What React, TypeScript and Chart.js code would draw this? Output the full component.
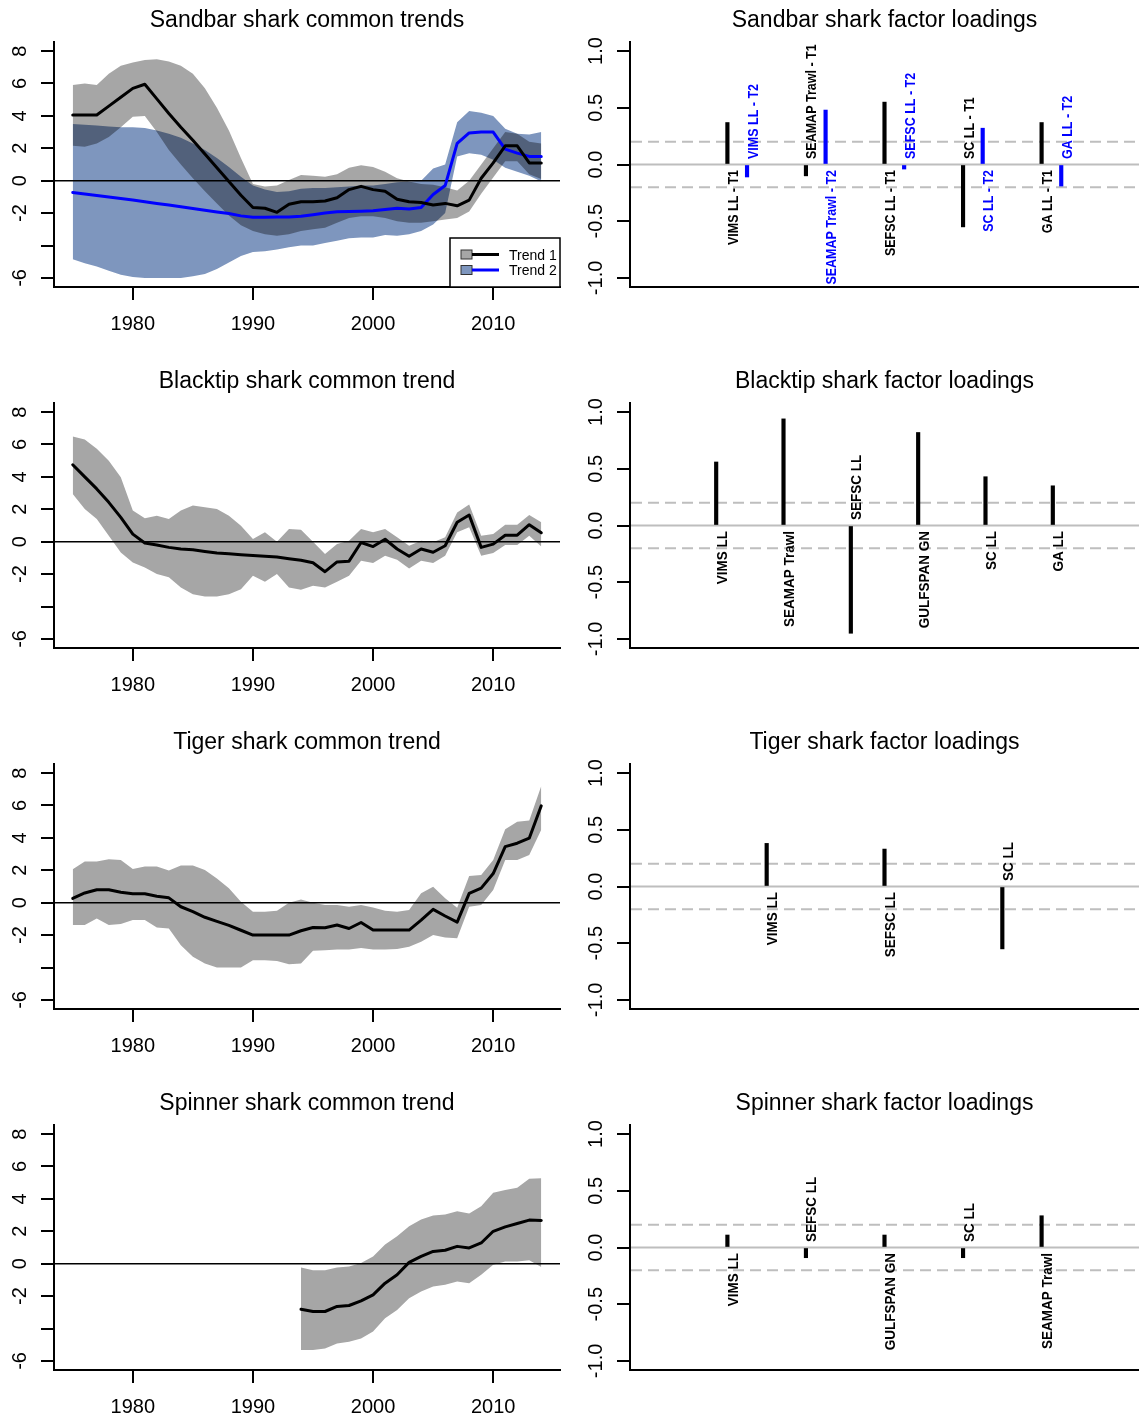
import React, { useEffect, useRef } from 'react';
import { Chart, registerables } from 'chart.js';

Chart.register(...registerables);

const FONT = '"Liberation Sans", Arial, Helvetica, sans-serif';

// ---------- time axis ----------
const years = [
  1975, 1976, 1977, 1978, 1979, 1980, 1981, 1982, 1983, 1984,
  1985, 1986, 1987, 1988, 1989, 1990, 1991, 1992, 1993, 1994,
  1995, 1996, 1997, 1998, 1999, 2000, 2001, 2002, 2003, 2004,
  2005, 2006, 2007, 2008, 2009, 2010, 2011, 2012, 2013, 2014,
];
const spinnerYears = [
  1994, 1995, 1996, 1997, 1998, 1999, 2000, 2001, 2002, 2003, 2004,
  2005, 2006, 2007, 2008, 2009, 2010, 2011, 2012, 2013, 2014,
];

// ---------- Sandbar: two common trends with 95% bands ----------
const sandbarTrend1 = [
  4.05, 4.05, 4.05, 4.6, 5.15, 5.7, 5.95, 5.05, 4.15, 3.3,
  2.5, 1.65, 0.8, -0.05, -0.9, -1.65, -1.7, -1.95, -1.45, -1.3,
  -1.3, -1.25, -1.05, -0.55, -0.35, -0.55, -0.65, -1.15, -1.3, -1.35,
  -1.5, -1.4, -1.55, -1.2, 0.15, 1.1, 2.15, 2.15, 1.1, 1.1,
];
const sandbarTrend1Upper = [
  5.9, 6.0, 5.9, 6.6, 7.1, 7.3, 7.45, 7.5, 7.35, 7.1,
  6.6, 5.7, 4.5, 3.1, 1.4, -0.2, -0.35, -0.3, 0.05, 0.35,
  0.3, 0.25, 0.4, 0.8, 0.95, 0.85, 0.55, 0.15, -0.05, -0.2,
  -0.25, -0.4, -0.6, 0.0, 1.0, 2.0, 3.0, 2.9, 2.4, 2.3,
];
const sandbarTrend1Lower = [
  2.15, 2.1, 2.3, 2.7, 3.3, 3.95, 4.0, 3.0, 1.9, 1.0,
  0.15, -0.65, -1.4, -2.15, -2.75, -3.1, -3.3, -3.4, -3.3, -3.1,
  -3.0, -2.9, -2.6, -2.3, -2.2, -2.2, -2.3, -2.5, -2.6, -2.6,
  -2.5, -2.4, -2.3, -1.9, -0.8, 0.2, 1.2, 1.2, 0.4, 0.1,
];
const sandbarTrend2 = [
  -0.73, -0.82, -0.92, -1.01, -1.1, -1.19, -1.3, -1.4, -1.5, -1.61,
  -1.71, -1.82, -1.93, -2.03, -2.17, -2.26, -2.25, -2.24, -2.24, -2.2,
  -2.1, -2.0, -1.92, -1.9, -1.88, -1.86, -1.78, -1.7, -1.75, -1.66,
  -0.85, -0.3, 2.3, 2.95, 3.0, 3.0, 1.95, 1.7, 1.5, 1.5,
];
const sandbarTrend2Upper = [
  3.5, 3.45, 3.4, 3.35, 3.3, 3.3, 3.25, 3.1, 2.9, 2.65,
  2.3, 1.9, 1.4, 0.85, 0.25, -0.3, -0.55, -0.7, -0.65, -0.5,
  -0.45, -0.45, -0.4, -0.35, -0.3, -0.3, -0.2, -0.1, -0.05, 0.0,
  0.75, 1.0, 3.6, 4.3, 4.2, 4.0, 3.2, 2.9, 2.85, 3.0,
];
const sandbarTrend2Lower = [
  -4.85, -5.1, -5.3, -5.55, -5.8, -5.95, -6.0, -6.0, -6.0, -6.0,
  -5.9, -5.75, -5.45, -5.05, -4.65, -4.4, -4.35, -4.25, -4.1, -4.0,
  -4.0, -3.85, -3.7, -3.55, -3.5, -3.5, -3.35, -3.4, -3.3, -3.1,
  -2.7, -2.0, 1.5, 1.7, 1.6, 1.3, 0.8, 0.55, 0.3, -0.05,
];

// ---------- Blacktip ----------
const blacktipTrend = [
  4.75, 4.0, 3.26, 2.43, 1.5, 0.47, -0.08, -0.2, -0.35, -0.45,
  -0.5, -0.6, -0.7, -0.75, -0.8, -0.85, -0.9, -0.95, -1.05, -1.15,
  -1.3, -1.85, -1.25, -1.2, -0.05, -0.3, 0.15, -0.45, -0.9, -0.45,
  -0.65, -0.25, 1.2, 1.65, -0.35, -0.15, 0.4, 0.4, 1.05, 0.55,
];
const blacktipUpper = [
  6.5, 6.3, 5.73, 5.0, 3.98, 1.92, 1.44, 1.6, 1.4, 1.92,
  2.23, 2.12, 2.02, 1.6, 0.99, 0.16, 0.58, 0.0, 0.78, 0.74,
  0.0, -0.76, -0.14, 0.06, 0.78, 0.58, 0.78, 0.27, -0.25, 0.06,
  -0.04, 0.27, 1.81, 2.29, 0.37, 0.47, 1.05, 1.05, 1.65, 1.2,
];
const blacktipLower = [
  2.95, 2.02, 1.4, 0.37, -0.66, -1.28, -1.59, -2.0, -2.2, -2.82,
  -3.24, -3.38, -3.38, -3.24, -2.93, -2.1, -2.47, -2.0, -2.82, -2.97,
  -2.72, -2.82, -2.47, -2.1, -1.18, -1.32, -0.87, -1.11, -1.65, -1.18,
  -1.32, -0.87, 0.58, 0.89, -0.87, -0.7, -0.21, -0.21, 0.37, -0.29,
];

// ---------- Tiger ----------
const tigerTrend = [
  0.27, 0.6, 0.8, 0.8, 0.65, 0.55, 0.55, 0.4, 0.3, -0.25,
  -0.55, -0.9, -1.15, -1.4, -1.7, -2.0, -2.0, -2.0, -2.0, -1.73,
  -1.53, -1.55, -1.38, -1.59, -1.22, -1.69, -1.69, -1.69, -1.69, -1.07,
  -0.41, -0.82, -1.2, 0.58, 0.9, 1.8, 3.46, 3.67, 3.98, 5.98,
];
const tigerUpper = [
  2.06, 2.54, 2.54, 2.68, 2.64, 2.08, 2.23, 2.23, 1.98, 2.29,
  2.29, 2.02, 1.5, 0.89, 0.06, -0.56, -0.56, -0.49, 0.0, 0.2,
  0.0, -0.14, -0.14, -0.25, -0.14, -0.29, -0.5, -0.56, -0.45, 0.58,
  0.99, 0.27, -0.31, 1.65, 1.71, 2.64, 4.54, 5.0, 5.07, 7.2,
];
const tigerLower = [
  -1.38, -1.38, -0.97, -1.38, -1.32, -1.07, -1.07, -1.53, -1.59, -2.62,
  -3.34, -3.75, -4.0, -4.0, -4.0, -3.55, -3.55, -3.6, -3.8, -3.75,
  -2.97, -2.93, -2.89, -2.89, -2.8, -2.89, -2.89, -2.85, -2.72, -2.41,
  -2.0, -2.14, -2.2, -0.25, -0.14, 0.78, 2.64, 2.64, 2.95, 4.5,
];

// ---------- Spinner (1994 onwards) ----------
const spinnerTrend = [
  -2.81, -2.95, -2.95, -2.64, -2.58, -2.29, -1.92, -1.2, -0.68, 0.08, 0.45,
  0.76, 0.83, 1.07, 0.97, 1.28, 2.0, 2.27, 2.48, 2.69, 2.67,
];
const spinnerUpper = [
  -0.23, -0.41, -0.41, -0.23, -0.17, 0.04, 0.45, 1.18, 1.69, 2.31, 2.73,
  2.98, 3.04, 3.24, 3.1, 3.55, 4.38, 4.55, 4.69, 5.25, 5.27,
];
const spinnerLower = [
  -5.33, -5.33, -5.23, -4.92, -4.81, -4.61, -4.19, -3.37, -2.85, -2.13, -1.71,
  -1.4, -1.3, -1.1, -1.2, -0.68, -0.06, 0.14, 0.14, 0.21, -0.21,
];

// ---------- factor loadings ----------
const sandbarSurveys = ['VIMS LL', 'SEAMAP Trawl', 'SEFSC LL', 'SC LL', 'GA LL'];
const sandbarLoadingsT1 = [0.37, -0.1, 0.55, -0.55, 0.37];
const sandbarLoadingsT2 = [-0.11, 0.48, -0.04, 0.32, -0.19];

const blacktipSurveys = ['VIMS LL', 'SEAMAP Trawl', 'SEFSC LL', 'GULFSPAN GN', 'SC LL', 'GA LL'];
const blacktipLoadings = [0.56, 0.94, -0.95, 0.82, 0.43, 0.35];

const tigerSurveys = ['VIMS LL', 'SEFSC LL', 'SC LL'];
const tigerLoadings = [0.38, 0.33, -0.55];

const spinnerSurveys = ['VIMS LL', 'SEFSC LL', 'GULFSPAN GN', 'SC LL', 'SEAMAP Trawl'];
const spinnerLoadings = [0.11, -0.09, 0.11, -0.09, 0.28];

// ---------- axis ticks ----------
const trendYRange = [-6, 8];
const trendYTicks = [-6, -4, -2, 0, 2, 4, 6, 8];
const trendYTickLabels = ['-6', '', '-2', '0', '2', '4', '6', '8'];
const trendXTicks = [1980, 1990, 2000, 2010];
const trendXTickLabels = ['1980', '1990', '2000', '2010'];

const loadingYRange = [-1, 1];
const loadingYTicks = [-1, -0.5, 0, 0.5, 1];
const loadingYTickLabels = ['-1.0', '-0.5', '0.0', '0.5', '1.0'];
const loadingGuides = [0.2, -0.2];

// ---------- page layout ----------
const PAGE_W = 1139;
const PAGE_H = 1418;
const ROW_PITCH = 361;
const SPLIT_X = 570;
const PLOT_TOP = 42;
const PLOT_BOTTOM = 287;
const TREND_AXIS_W = 54;
const TREND_PAD_RIGHT = 10;
const LOAD_AXIS_W = 60;

const BLACK = '#000000';
const BLUE = '#0000FF';
const BAND_GREY = '#A6A6A6';
const BAND_GREY_ALPHA = 'rgba(0,0,0,0.35)';
const BAND_BLUE = '#7E96BE';

// base-graphics style 4% extension of an axis range
const extend = (lo: number, hi: number) => {
  const d = (hi - lo) * 0.04;
  return [lo - d, hi + d];
};

const pts = (xs: number[], ys: number[]) => xs.map((x, i) => ({ x, y: ys[i] }));

type TickText = { value: number; text: string };
type LegendItem = { text: string; fill: string; line: string };
type BarLabel = { x: number; value: number; text: string; color: string };

interface PanelSpec {
  title: string;
  yTicks: TickText[];
  xTicks?: TickText[];
  legend?: LegendItem[];
  guides?: number[];
  barLabels?: BarLabel[];
  labelSize?: number;
}

const tickTexts = (values: number[], labels: string[]) =>
  values.map((value, i) => ({ value, text: labels[i] }));

function drawUpText(ctx: CanvasRenderingContext2D, text: string, x: number, y: number, align: CanvasTextAlign, stretch = 1) {
  ctx.save();
  ctx.translate(x, y);
  ctx.rotate(-Math.PI / 2);
  ctx.scale(1, stretch);
  ctx.textAlign = align;
  ctx.textBaseline = 'alphabetic';
  ctx.fillText(text, 0, 0);
  ctx.restore();
}

function panelPlugin(spec: PanelSpec) {
  return {
    id: 'panelDecor',
    beforeDatasetsDraw(chart: any) {
      if (!spec.guides) return;
      const { ctx, chartArea: a } = chart;
      const ys = chart.scales.y;
      ctx.save();
      ctx.strokeStyle = '#BEBEBE';
      ctx.lineWidth = 2;
      const y0 = ys.getPixelForValue(0);
      ctx.beginPath();
      ctx.moveTo(a.left + 1, y0);
      ctx.lineTo(a.right, y0);
      ctx.stroke();
      ctx.setLineDash([11, 6]);
      spec.guides.forEach((v) => {
        const gy = ys.getPixelForValue(v);
        ctx.beginPath();
        ctx.moveTo(a.left + 1, gy);
        ctx.lineTo(a.right, gy);
        ctx.stroke();
      });
      ctx.restore();
    },
    afterDatasetsDraw(chart: any) {
      if (!spec.barLabels) return;
      const { ctx, chartArea: a } = chart;
      const xs = chart.scales.x;
      const ys = chart.scales.y;
      const y0 = ys.getPixelForValue(0);
      ctx.save();
      ctx.beginPath();
      ctx.rect(a.left, a.top, a.right - a.left, a.bottom - a.top);
      ctx.clip();
      ctx.font = `bold ${spec.labelSize || 13.5}px ${FONT}`;
      spec.barLabels.forEach((lb) => {
        const px = xs.getPixelForValue(lb.x) + 10.5;
        const below = lb.value >= 0;
        ctx.fillStyle = lb.color;
        drawUpText(ctx, lb.text, px, below ? y0 + 5.5 : y0 - 5.5, below ? 'right' : 'left', 1.12);
      });
      ctx.restore();
    },
    afterDraw(chart: any) {
      const { ctx, chartArea: a } = chart;
      ctx.save();
      ctx.fillStyle = '#000';
      ctx.textBaseline = 'alphabetic';
      ctx.font = `23px ${FONT}`;
      ctx.textAlign = 'center';
      ctx.fillText(spec.title, (a.left + a.right) / 2, 27);

      ctx.font = `20px ${FONT}`;
      spec.yTicks.forEach((t) => {
        if (!t.text) return;
        const py = chart.scales.y.getPixelForValue(t.value);
        drawUpText(ctx, t.text, a.left - 28, py, 'center');
      });
      if (spec.xTicks) {
        ctx.textAlign = 'center';
        spec.xTicks.forEach((t) => {
          const px = chart.scales.x.getPixelForValue(t.value);
          ctx.fillText(t.text, px, a.bottom + 43);
        });
      }

      if (spec.legend) {
        const bw = 110;
        const bh = 49;
        const bx = a.right - bw;
        const by = a.bottom - bh;
        ctx.fillStyle = '#fff';
        ctx.fillRect(bx, by, bw, bh);
        ctx.strokeStyle = '#000';
        ctx.lineWidth = 1.5;
        ctx.strokeRect(bx, by, bw, bh);
        ctx.font = `14px ${FONT}`;
        ctx.textAlign = 'left';
        spec.legend.forEach((item, i) => {
          const cy = by + 16.5 + i * 15.5;
          ctx.fillStyle = item.fill;
          ctx.fillRect(bx + 11, cy - 4.5, 11, 9);
          ctx.lineWidth = 1;
          ctx.strokeStyle = '#333';
          ctx.strokeRect(bx + 11, cy - 4.5, 11, 9);
          ctx.strokeStyle = item.line;
          ctx.lineWidth = 3;
          ctx.beginPath();
          ctx.moveTo(bx + 22, cy);
          ctx.lineTo(bx + 49, cy);
          ctx.stroke();
          ctx.fillStyle = '#000';
          ctx.fillText(item.text, bx + 59, cy + 5);
        });
      }
      ctx.restore();
    },
  };
}

const axisGrid = {
  display: true,
  drawOnChartArea: false,
  drawTicks: true,
  tickLength: 13,
  tickWidth: 2,
  tickColor: '#000',
  lineWidth: 2,
  color: '#000',
};
const axisBorder = { display: true, color: '#000', width: 2 };

type Band = { upper: number[]; lower: number[]; color: string };
type Line = { values: number[]; color: string };

function trendChart(xs: number[], bands: Band[], lines: Line[], spec: PanelSpec) {
  return (h: number) => {
    const [xMin, xMax] = extend(years[0], years[years.length - 1]);
    const [yMin, yMax] = extend(trendYRange[0], trendYRange[1]);
    const datasets: any[] = [];
    let order = 10;
    bands.forEach((b) => {
      datasets.push({
        data: pts(xs, b.upper),
        backgroundColor: b.color,
        borderColor: 'transparent',
        borderWidth: 0,
        pointRadius: 0,
        fill: '+1',
        order,
      });
      datasets.push({
        data: pts(xs, b.lower),
        borderColor: 'transparent',
        borderWidth: 0,
        pointRadius: 0,
        fill: false,
        order,
      });
      order -= 1;
    });
    datasets.push({
      data: [{ x: xMin, y: 0 }, { x: xMax, y: 0 }],
      borderColor: '#000',
      borderWidth: 1.5,
      pointRadius: 0,
      fill: false,
      order: 1,
    });
    lines.forEach((l) => {
      datasets.push({
        data: pts(xs, l.values),
        borderColor: l.color,
        borderWidth: 3,
        borderJoinStyle: 'round',
        borderCapStyle: 'round',
        pointRadius: 0,
        fill: false,
        order: 0,
      });
    });
    return {
      type: 'line',
      data: { datasets },
      options: {
        animation: false,
        responsive: false,
        events: [],
        layout: { padding: { left: 0, right: TREND_PAD_RIGHT, top: PLOT_TOP, bottom: 0 } },
        elements: { line: { tension: 0 }, point: { radius: 0 } },
        plugins: { legend: { display: false }, title: { display: false }, tooltip: { enabled: false } },
        scales: {
          x: {
            type: 'linear',
            min: xMin,
            max: xMax,
            afterBuildTicks: (s: any) => {
              s.ticks = trendXTicks.map((value) => ({ value }));
            },
            afterFit: (s: any) => {
              s.height = h - PLOT_BOTTOM;
            },
            grid: axisGrid,
            border: axisBorder,
            ticks: { display: false },
          },
          y: {
            type: 'linear',
            min: yMin,
            max: yMax,
            afterBuildTicks: (s: any) => {
              s.ticks = trendYTicks.map((value) => ({ value }));
            },
            afterFit: (s: any) => {
              s.width = TREND_AXIS_W;
            },
            grid: axisGrid,
            border: axisBorder,
            ticks: { display: false },
          },
        },
      },
      plugins: [panelPlugin(spec)],
    };
  };
}

type LoadingGroup = { values: number[]; shift: number; color: string; suffix: string };

function loadingChart(title: string, surveys: string[], groups: LoadingGroup[], labelSize: number) {
  return (h: number) => {
    const n = surveys.length;
    const [xMin, xMax] = extend(0, n + 1);
    const [yMin, yMax] = extend(loadingYRange[0], loadingYRange[1]);
    const barLabels: BarLabel[] = [];
    const datasets = groups.map((g) => {
      const data = g.values.map((v, i) => {
        const x = i + 1 + g.shift;
        barLabels.push({ x, value: v, text: surveys[i] + g.suffix, color: g.color });
        return { x, y: [0, v] };
      });
      return {
        type: 'bar',
        data,
        backgroundColor: g.color,
        borderWidth: 0,
        grouped: false,
        barThickness: 3.5,
        maxBarThickness: 3.5,
      };
    });
    const spec: PanelSpec = {
      title,
      yTicks: tickTexts(loadingYTicks, loadingYTickLabels),
      guides: loadingGuides,
      barLabels,
      labelSize,
    };
    return {
      type: 'bar',
      data: { datasets },
      options: {
        animation: false,
        responsive: false,
        events: [],
        layout: { padding: { left: 0, right: 0, top: PLOT_TOP, bottom: 0 } },
        plugins: { legend: { display: false }, title: { display: false }, tooltip: { enabled: false } },
        scales: {
          x: {
            type: 'linear',
            min: xMin,
            max: xMax,
            offset: false,
            afterFit: (s: any) => {
              s.height = h - PLOT_BOTTOM;
            },
            grid: { display: false },
            border: axisBorder,
            ticks: { display: false },
          },
          y: {
            type: 'linear',
            min: yMin,
            max: yMax,
            afterBuildTicks: (s: any) => {
              s.ticks = loadingYTicks.map((value) => ({ value }));
            },
            afterFit: (s: any) => {
              s.width = LOAD_AXIS_W;
            },
            grid: axisGrid,
            border: axisBorder,
            ticks: { display: false },
          },
        },
      },
      plugins: [panelPlugin(spec)],
    };
  };
}

const trendSpec = (title: string, legend?: LegendItem[]): PanelSpec => ({
  title,
  yTicks: tickTexts(trendYTicks, trendYTickLabels),
  xTicks: tickTexts(trendXTicks, trendXTickLabels),
  legend,
});

const panels = [
  {
    left: 0,
    row: 0,
    build: trendChart(
      years,
      [
        { upper: sandbarTrend2Upper, lower: sandbarTrend2Lower, color: BAND_BLUE },
        { upper: sandbarTrend1Upper, lower: sandbarTrend1Lower, color: BAND_GREY_ALPHA },
      ],
      [
        { values: sandbarTrend1, color: BLACK },
        { values: sandbarTrend2, color: BLUE },
      ],
      trendSpec('Sandbar shark common trends', [
        { text: 'Trend 1', fill: BAND_GREY, line: BLACK },
        { text: 'Trend 2', fill: BAND_BLUE, line: BLUE },
      ]),
    ),
  },
  {
    left: SPLIT_X,
    row: 0,
    build: loadingChart(
      'Sandbar shark factor loadings',
      sandbarSurveys,
      [
        { values: sandbarLoadingsT1, shift: 0, color: BLACK, suffix: ' - T1' },
        { values: sandbarLoadingsT2, shift: 0.25, color: BLUE, suffix: ' - T2' },
      ],
      12.5,
    ),
  },
  {
    left: 0,
    row: 1,
    build: trendChart(
      years,
      [{ upper: blacktipUpper, lower: blacktipLower, color: BAND_GREY }],
      [{ values: blacktipTrend, color: BLACK }],
      trendSpec('Blacktip shark common trend'),
    ),
  },
  {
    left: SPLIT_X,
    row: 1,
    build: loadingChart(
      'Blacktip shark factor loadings',
      blacktipSurveys,
      [{ values: blacktipLoadings, shift: 0, color: BLACK, suffix: '' }],
      13.5,
    ),
  },
  {
    left: 0,
    row: 2,
    build: trendChart(
      years,
      [{ upper: tigerUpper, lower: tigerLower, color: BAND_GREY }],
      [{ values: tigerTrend, color: BLACK }],
      trendSpec('Tiger shark common trend'),
    ),
  },
  {
    left: SPLIT_X,
    row: 2,
    build: loadingChart(
      'Tiger shark factor loadings',
      tigerSurveys,
      [{ values: tigerLoadings, shift: 0, color: BLACK, suffix: '' }],
      13.5,
    ),
  },
  {
    left: 0,
    row: 3,
    build: trendChart(
      spinnerYears,
      [{ upper: spinnerUpper, lower: spinnerLower, color: BAND_GREY }],
      [{ values: spinnerTrend, color: BLACK }],
      trendSpec('Spinner shark common trend'),
    ),
  },
  {
    left: SPLIT_X,
    row: 3,
    build: loadingChart(
      'Spinner shark factor loadings',
      spinnerSurveys,
      [{ values: spinnerLoadings, shift: 0, color: BLACK, suffix: '' }],
      13.5,
    ),
  },
];

function ChartPanel({ left, top, width, height, build }: any) {
  const ref = useRef<HTMLCanvasElement>(null);
  useEffect(() => {
    const chart = new Chart(ref.current as HTMLCanvasElement, build(height));
    return () => chart.destroy();
  }, []);
  return (
    <canvas
      ref={ref}
      width={width}
      height={height}
      style={{ position: 'absolute', left, top, width, height, display: 'block' }}
    />
  );
}

export default function App() {
  return (
    <div
      style={{
        position: 'absolute',
        left: 0,
        top: 0,
        width: PAGE_W,
        height: PAGE_H,
        overflow: 'hidden',
        background: '#fff',
      }}
    >
      {panels.map((p, i) => {
        const top = p.row * ROW_PITCH;
        const height = Math.min(ROW_PITCH, PAGE_H - top);
        const width = p.left === 0 ? SPLIT_X : PAGE_W - SPLIT_X;
        return <ChartPanel key={i} left={p.left} top={top} width={width} height={height} build={p.build} />;
      })}
    </div>
  );
}
